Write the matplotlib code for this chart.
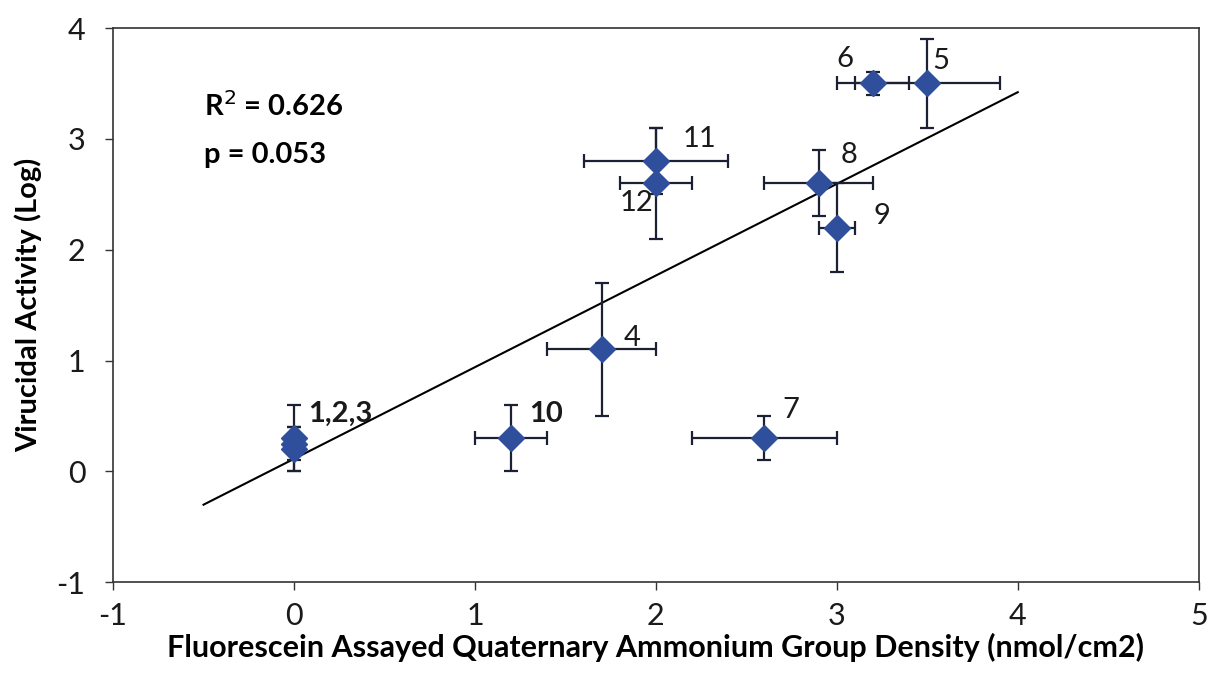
import matplotlib
matplotlib.use("Agg")
import matplotlib.pyplot as plt
import numpy as np

plt.rcParams['font.family'] = ['Lato', 'DejaVu Sans']
plt.rcParams['axes.unicode_minus'] = False

# Data: (x, y, x error, y error)
x_vals = [0.0, 0.0, 0.0, 1.7, 3.5, 3.2, 2.6, 2.9, 3.0, 1.2, 2.0, 2.0]
y_vals = [0.3, 0.2, 0.25, 1.1, 3.5, 3.5, 0.3, 2.6, 2.2, 0.3, 2.8, 2.6]
x_err = [0.0, 0.0, 0.0, 0.3, 0.4, 0.2, 0.4, 0.3, 0.1, 0.2, 0.4, 0.2]
y_err = [0.3, 0.2, 0.15, 0.6, 0.4, 0.1, 0.2, 0.3, 0.4, 0.3, 0.3, 0.5]

# Point labels and their positions
label_texts = ["1,2,3", "4", "5", "6", "7", "8", "9", "10", "11", "12"]
label_x = [0.08, 1.82, 3.53, 3.0, 2.7, 3.02, 3.2, 1.3, 2.15, 1.8]
label_y = [0.52, 1.2, 3.7, 3.72, 0.55, 2.85, 2.3, 0.52, 3.0, 2.42]
label_bold = [True, False, False, False, False, False, False, True, False, False]

# Trend line
trend_x = [-0.5, 4.0]
trend_slope = 0.827
trend_intercept = 0.113

stats_lines = ["R$^2$ = 0.626", "p = 0.053"]

fig = plt.figure(figsize=(12.09, 6.77), dpi=100)
ax = fig.add_axes([0.0935, 0.140, 0.898, 0.8186])

tx = np.array(trend_x)
ax.plot(tx, trend_slope * tx + trend_intercept, color='black', lw=1.5, zorder=2)

ax.errorbar(x_vals, y_vals, xerr=x_err, yerr=y_err, fmt='none',
            ecolor='#1c2033', elinewidth=1.6, capsize=5, capthick=1.6, zorder=3)
ax.plot(x_vals, y_vals, linestyle='none', marker='D', markersize=13,
        color='#2f4f9c', markeredgecolor='#2f4f9c', zorder=4)

for t, lx, ly, b in zip(label_texts, label_x, label_y, label_bold):
    ax.text(lx, ly, t, fontsize=21, fontweight='bold' if b else 'normal',
            ha='left', va='center', color='#1a1a1a', zorder=5)

ax.text(-0.5, 3.3, stats_lines[0], fontsize=21, fontweight='bold', ha='left', va='center')
ax.text(-0.5, 2.85, stats_lines[1], fontsize=21, fontweight='bold', ha='left', va='center')

ax.set_xlim(-1, 5)
ax.set_ylim(-1, 4)
ax.set_xticks([-1, 0, 1, 2, 3, 4, 5])
ax.set_yticks([-1, 0, 1, 2, 3, 4])
ax.tick_params(direction='out', length=6, width=1, labelsize=22, colors='#333333', labelcolor='#1a1a1a')
ax.tick_params(axis='x', pad=8)
ax.tick_params(axis='y', pad=14)
for s in ax.spines.values():
    s.set_color('#333333')
    s.set_linewidth(1.2)

ax.set_xlabel('Fluorescein Assayed Quaternary Ammonium Group Density (nmol/cm2)',
              fontsize=22, fontweight='bold', labelpad=2)
ax.set_ylabel('Virucidal Activity (Log)', fontsize=21, fontweight='bold', labelpad=10)

fig.savefig('out.png', dpi=100)
